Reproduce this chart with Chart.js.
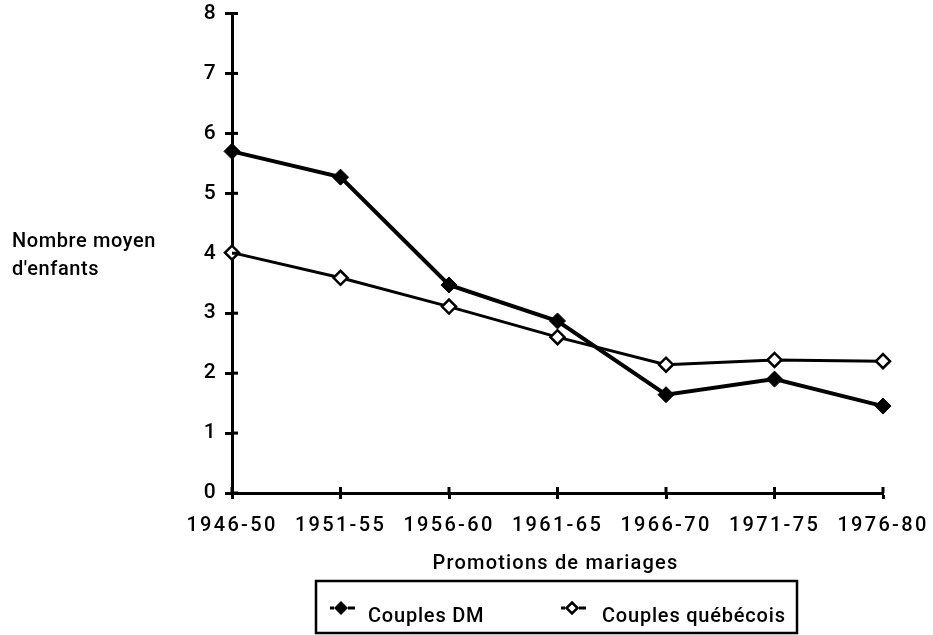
<!DOCTYPE html>
<html>
<head>
<meta charset="utf-8">
<script src="https://cdn.jsdelivr.net/npm/chart.js@4/dist/chart.umd.min.js"></script>
<style>
  html, body { margin: 0; padding: 0; background: #fff; }
  canvas { display: block; }
</style>
</head>
<body>
<canvas id="c" width="933" height="635"></canvas>
<script>
const categories = ['1946-50', '1951-55', '1956-60', '1961-65', '1966-70', '1971-75', '1976-80'];
const couplesDM = [5.70, 5.27, 3.47, 2.87, 1.64, 1.90, 1.45];
const couplesQuebecois = [4.01, 3.59, 3.11, 2.60, 2.14, 2.22, 2.20];
const seriesLabels = ['Couples DM', 'Couples québécois'];
const yTicks = [0, 1, 2, 3, 4, 5, 6, 7, 8];
const xTitle = 'Promotions de mariages';
const yTitleLines = ['Nombre moyen', "d'enfants"];

const FONT = 'Roboto, "Liberation Sans", Arial, sans-serif';
const W = '500';

function diamond(ctx, x, y, r, filled, lw) {
  ctx.beginPath();
  ctx.moveTo(x, y - r);
  ctx.lineTo(x + r, y);
  ctx.lineTo(x, y + r);
  ctx.lineTo(x - r, y);
  ctx.closePath();
  if (filled) { ctx.fillStyle = '#000'; ctx.fill(); }
  else { ctx.fillStyle = '#fff'; ctx.fill(); ctx.lineWidth = lw; ctx.strokeStyle = '#000'; ctx.stroke(); }
}

const decor = {
  id: 'decor',
  beforeDraw(chart) {
    chart.ctx.letterSpacing = '2.3px';
  },
  afterDraw(chart) {
    const ctx = chart.ctx;
    const xs = chart.scales.x, ys = chart.scales.y;
    ctx.save();
    ctx.strokeStyle = '#000';
    ctx.lineWidth = 3;
    ys.ticks.forEach(t => {
      const py = ys.getPixelForValue(t.value);
      ctx.beginPath(); ctx.moveTo(xs.left, py); ctx.lineTo(xs.left + 6, py); ctx.stroke();
    });
    categories.forEach((c, i) => {
      const px = xs.getPixelForValue(i);
      ctx.beginPath(); ctx.moveTo(px, ys.bottom); ctx.lineTo(px, ys.bottom - 6); ctx.stroke();
    });
    ctx.fillStyle = '#000';
    ctx.font = W + ' 20px ' + FONT;
    ctx.letterSpacing = '1.2px';
    ctx.textAlign = 'center';
    ctx.textBaseline = 'alphabetic';
    ctx.fillText(xTitle, (xs.left + xs.right) / 2 - 2, 569);
    ctx.letterSpacing = '0.6px';
    ctx.textAlign = 'left';
    ctx.fillText(yTitleLines[0], 12, 247);
    ctx.fillText(yTitleLines[1], 12, 275);
    ctx.lineWidth = 2.5;
    ctx.strokeRect(316, 581, 481, 52);
    const items = [
      { x: 330, tx: 368, filled: true, ds: 0 },
      { x: 561, tx: 602, filled: false, ds: 1 }
    ];
    ctx.letterSpacing = '0.8px';
    items.forEach(it => {
      const my = 608;
      ctx.lineWidth = 3;
      ctx.beginPath(); ctx.moveTo(it.x, my); ctx.lineTo(it.x + 4, my); ctx.stroke();
      ctx.beginPath(); ctx.moveTo(it.x + 18, my); ctx.lineTo(it.x + 25, my); ctx.stroke();
      diamond(ctx, it.x + 11, my, it.filled ? 7 : 5.5, it.filled, 2.5);
      ctx.fillStyle = '#000';
      ctx.textAlign = 'left';
      ctx.fillText(chart.data.datasets[it.ds].label, it.tx, 622);
    });
    ctx.restore();
  }
};

new Chart(document.getElementById('c'), {
  type: 'line',
  data: {
    labels: categories,
    datasets: [
      {
        label: seriesLabels[0],
        data: couplesDM,
        borderColor: '#000',
        backgroundColor: '#000',
        borderWidth: 4,
        pointStyle: 'rectRot',
        pointRadius: 8,
        pointBorderWidth: 1,
        pointBackgroundColor: '#000',
        pointBorderColor: '#000',
        tension: 0
      },
      {
        label: seriesLabels[1],
        data: couplesQuebecois,
        borderColor: '#000',
        backgroundColor: '#fff',
        borderWidth: 3,
        pointStyle: 'rectRot',
        pointRadius: 7,
        pointBorderWidth: 2.5,
        pointBackgroundColor: '#fff',
        pointBorderColor: '#000',
        tension: 0
      }
    ]
  },
  options: {
    responsive: false,
    animation: false,
    devicePixelRatio: 1,
    layout: { padding: { top: 13.5, right: 50, bottom: 0, left: 0 } },
    plugins: {
      legend: { display: false },
      tooltip: { enabled: false }
    },
    scales: {
      x: {
        type: 'category',
        offset: false,
        afterFit(scale) { scale.height = 142; scale.paddingLeft = 0; scale.paddingRight = 0; },
        grid: { drawOnChartArea: false, drawTicks: true, tickLength: 6, tickWidth: 3, tickColor: '#000' },
        border: { display: true, color: '#000', width: 3 },
        ticks: { color: '#000', font: { family: FONT, size: 20, weight: W }, padding: 15, maxRotation: 0, autoSkip: false }
      },
      y: {
        min: 0,
        max: 8,
        afterFit(scale) { scale.width = 232; scale.paddingTop = 0; scale.paddingBottom = 0; },
        afterBuildTicks(scale) { scale.ticks = yTicks.map(v => ({ value: v })); },
        grid: { drawOnChartArea: false, drawTicks: true, tickLength: 7, tickWidth: 3, tickColor: '#000' },
        border: { display: true, color: '#000', width: 3 },
        ticks: { color: '#000', font: { family: FONT, size: 21, weight: W }, padding: 7, stepSize: 1 }
      }
    }
  },
  plugins: [decor]
});
</script>
</body>
</html>
